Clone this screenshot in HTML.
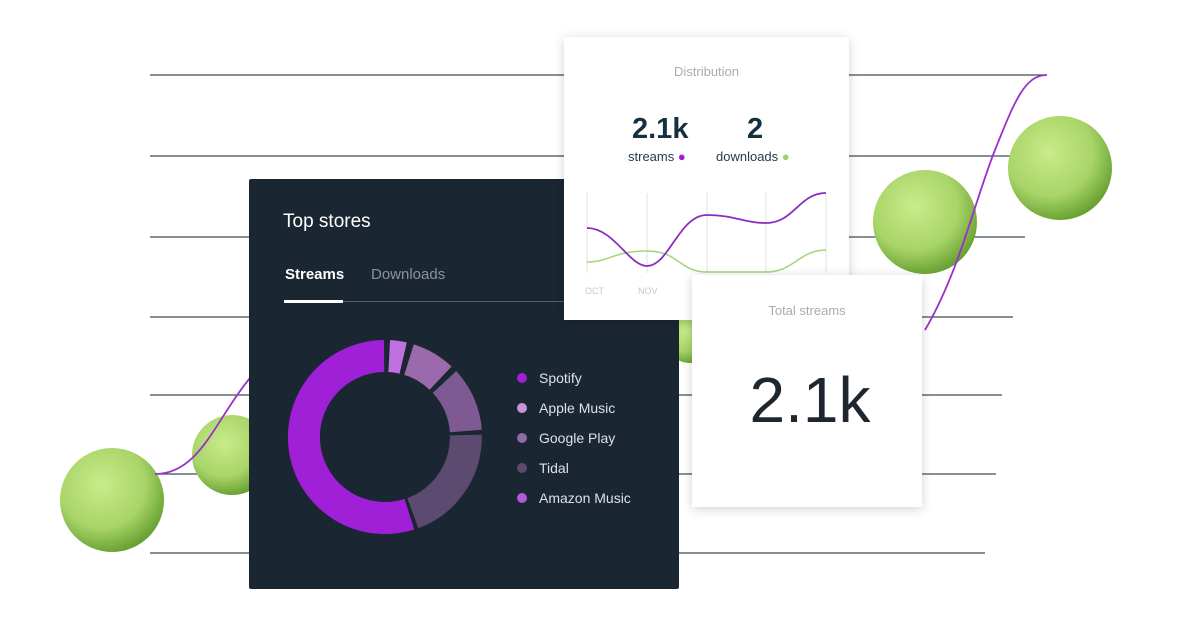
<!DOCTYPE html>
<html><head><meta charset="utf-8"><style>
body{margin:0;width:1200px;height:627px;background:#fff;position:relative;overflow:hidden;font-family:"Liberation Sans",sans-serif}
.c{position:absolute}
</style></head><body>
<svg class="c" style="left:0;top:0" width="1200" height="627">
<defs><radialGradient id="g" cx="40%" cy="35%" r="70%"><stop offset="0" stop-color="#c8ec8a"/><stop offset="0.6" stop-color="#a8d468"/><stop offset="1" stop-color="#5f9a2a"/></radialGradient></defs>
<g stroke="#3e4c5a" stroke-width="1.2">
<line x1="150" y1="75" x2="1045" y2="75"/><line x1="150" y1="156" x2="1040" y2="156"/>
<line x1="150" y1="237" x2="1025" y2="237"/><line x1="150" y1="317" x2="1013" y2="317"/>
<line x1="150" y1="395" x2="1002" y2="395"/><line x1="150" y1="474" x2="996" y2="474"/>
<line x1="150" y1="553" x2="985" y2="553"/></g>
<circle cx="232" cy="455" r="40" fill="url(#g)"/>
<circle cx="112" cy="500" r="52" fill="url(#g)"/>
<circle cx="690" cy="338" r="25" fill="url(#g)"/>
<circle cx="925" cy="222" r="52" fill="url(#g)"/>
<circle cx="1060" cy="168" r="52" fill="url(#g)"/>
<path d="M155 474 C200 474 215 420 250 378" stroke="#9b2fc9" stroke-width="1.8" fill="none"/>
<path d="M925 330 C960 270 975 200 995 150 C1015 100 1025 75 1047 75" stroke="#9b2fc9" stroke-width="1.8" fill="none"/>
</svg>
<div class="c" style="left:249px;top:179px;width:430px;height:410px;background:#1b2633;border-radius:2px">
<div class="c" style="left:34px;top:32px;color:#fff;font-size:19px">Top stores</div>
<div class="c" style="left:36px;top:87px;color:#fff;font-size:15px;font-weight:bold">Streams</div>
<div class="c" style="left:122px;top:87px;color:#8b929a;font-size:15px">Downloads</div>
<div class="c" style="left:35px;top:122px;width:280px;height:1px;background:#56606a"></div>
<div class="c" style="left:35px;top:121px;width:59px;height:3px;background:#fff"></div>
<div class="c" style="left:290px;top:184px;color:#dde0e4;font-size:14px;line-height:30px">
<div><span style="display:inline-block;width:10px;height:10px;border-radius:50%;background:#a020d8;margin:0 12px 0 -22px"></span>Spotify</div>
<div><span style="display:inline-block;width:10px;height:10px;border-radius:50%;background:#c994dc;margin:0 12px 0 -22px"></span>Apple Music</div>
<div><span style="display:inline-block;width:10px;height:10px;border-radius:50%;background:#8f6aa5;margin:0 12px 0 -22px"></span>Google Play</div>
<div><span style="display:inline-block;width:10px;height:10px;border-radius:50%;background:#5c4a70;margin:0 12px 0 -22px"></span>Tidal</div>
<div><span style="display:inline-block;width:10px;height:10px;border-radius:50%;background:#b45ad8;margin:0 12px 0 -22px"></span>Amazon Music</div>
</div></div>
<svg class="c" style="left:249px;top:179px" width="430" height="410">
<g transform="translate(136 258)" fill="none" stroke-width="32">
<path d="M-0.9 -81 A81 81 0 1 0 24.4 77.2" stroke="#a020d8"/>
<path d="M4.2 -81 A81 81 0 0 1 18.2 -79" stroke="#c070e0"/>
<path d="M24 -77.4 A81 81 0 0 1 55.6 -58.9" stroke="#9a6aac"/>
<path d="M59.5 -55 A81 81 0 0 1 80.9 -6" stroke="#7f5a92"/>
<path d="M80.8 -2 A81 81 0 0 1 27.8 76.1" stroke="#5c4a70"/>
</g></svg>
<div class="c" style="left:564px;top:37px;width:285px;height:283px;background:#fff;box-shadow:0 2px 10px rgba(0,0,0,.18)">
<div class="c" style="left:0;width:285px;top:27px;text-align:center;color:#a7adb3;font-size:13px">Distribution</div>
<div class="c" style="left:68px;top:76px;color:#163040;font-size:29px;font-weight:bold">2.1k</div>
<div class="c" style="left:183px;top:76px;color:#163040;font-size:29px;font-weight:bold">2</div>
<div class="c" style="left:64px;top:112px;color:#2a3a46;font-size:13px">streams <span style="color:#a020d8">●</span></div>
<div class="c" style="left:152px;top:112px;color:#2a3a46;font-size:13px">downloads <span style="color:#9fd26a">●</span></div>
<svg class="c" style="left:0;top:0" width="285" height="283">
<g stroke="#e2e2e2"><line x1="23" y1="156" x2="23" y2="236"/><line x1="83" y1="156" x2="83" y2="236"/><line x1="143" y1="156" x2="143" y2="236"/><line x1="202" y1="156" x2="202" y2="236"/><line x1="262" y1="156" x2="262" y2="236"/></g>
<path d="M23 225 C45 225 50 214 83 214 C115 214 115 235 143 235 L202 235 C230 235 235 213 262 213" stroke="#a5d47a" stroke-width="1.5" fill="none"/>
<path d="M23 191 C50 191 65 229 83 229 C105 229 115 178 143 178 C170 178 180 186 202 186 C230 186 235 156 262 156" stroke="#8a2cc0" stroke-width="1.8" fill="none"/>
<text x="21" y="257" font-size="9" fill="#c6c9cc" font-family="Liberation Sans">OCT</text>
<text x="74" y="257" font-size="9" fill="#c6c9cc" font-family="Liberation Sans">NOV</text>
</svg></div>
<div class="c" style="left:692px;top:275px;width:230px;height:232px;background:#fff;box-shadow:0 2px 10px rgba(0,0,0,.18)">
<div class="c" style="left:0;width:230px;top:28px;text-align:center;color:#a7adb3;font-size:13px">Total streams</div>
<div class="c" style="left:0;width:236px;top:88px;text-align:center;color:#1e2630;font-size:64px">2.1k</div>
</div>
</body></html>
